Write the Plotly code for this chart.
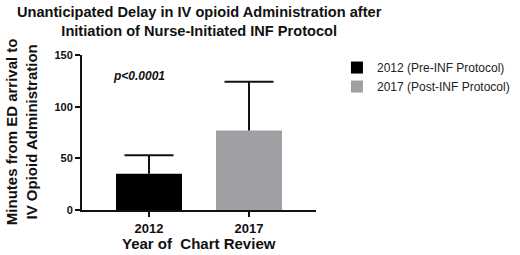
import plotly.graph_objects as go

years = ["2012", "2017"]
legend_names = ["2012 (Pre-INF Protocol)", "2017 (Post-INF Protocol)"]
means = [35, 77]
err_plus = [18, 47]
colors = ["#000000", "#a0a0a4"]
title_text = "Unanticipated Delay in IV opioid Administration after<br>Initiation of Nurse-Initiated INF Protocol"
y_title = "Minutes from ED arrival to<br>IV Opioid Administration"
x_title = "Year of &nbsp;Chart Review"
p_text = "p<0.0001"

fig = go.Figure()
for i in range(len(years)):
    fig.add_trace(go.Bar(
        x=[years[i]], y=[means[i]], name=legend_names[i],
        marker=dict(color=colors[i], line=dict(width=0)),
        width=0.66,
    ))

# error bars (upper only): stems and caps
stem_x, stem_y = [], []
for i in range(len(years)):
    stem_x += [years[i], years[i], None]
    stem_y += [means[i], means[i] + err_plus[i], None]
fig.add_trace(go.Scatter(x=stem_x, y=stem_y, mode="lines", showlegend=False,
                         line=dict(color="#111111", width=2), hoverinfo="skip"))
fig.add_trace(go.Scatter(x=years, y=[m + e for m, e in zip(means, err_plus)],
                         mode="markers", showlegend=False, hoverinfo="skip",
                         marker=dict(symbol="line-ew", size=35,
                                     line=dict(color="#111111", width=2))))

font_fam = "Liberation Sans, Arial, sans-serif"
fig.update_layout(
    width=520, height=255,
    margin=dict(l=82, r=204, t=55, b=45, autoexpand=False),
    plot_bgcolor="white", paper_bgcolor="white",
    barmode="overlay",
    font=dict(family=font_fam, color="#111111"),
    showlegend=True,
    legend=dict(xref="container", yref="container", x=0.648, y=0.792,
                xanchor="left", yanchor="top",
                font=dict(size=12, color="#222222"), bgcolor="rgba(0,0,0,0)"),
    xaxis=dict(type="category", categoryorder="array", categoryarray=years,
               range=[-0.67, 1.67], showline=True, linecolor="#111111", linewidth=2,
               ticks="outside", ticklen=5, tickwidth=2, tickcolor="#111111",
               tickfont=dict(size=13, family=font_fam, color="#111111", weight="bold"),
               showgrid=False, zeroline=False, fixedrange=True),
    yaxis=dict(range=[0, 150], tickvals=[0, 50, 100, 150], showline=True,
               linecolor="#111111", linewidth=2, ticks="outside", ticklen=5, tickwidth=2,
               tickcolor="#111111",
               tickfont=dict(size=11, family=font_fam, color="#111111", weight="bold"),
               showgrid=False, zeroline=False, fixedrange=True),
    annotations=[
        dict(text="<b>" + title_text + "</b>", xref="paper", yref="paper",
             x=0.504, y=1.213, xanchor="center", yanchor="middle", showarrow=False,
             font=dict(size=14.6, family=font_fam, color="#111111")),
        dict(text="<b>" + y_title + "</b>", xref="paper", yref="paper",
             x=-0.26, y=0.503, xanchor="center", yanchor="middle", textangle=-90,
             showarrow=False, font=dict(size=15, family=font_fam, color="#111111")),
        dict(text="<b>" + x_title + "</b>", xref="paper", yref="paper",
             x=0.5, y=-0.213, xanchor="center", yanchor="middle", showarrow=False,
             font=dict(size=15, family=font_fam, color="#111111")),
        dict(text="<b><i>" + p_text + "</i></b>", xref="x", yref="y",
             x=-0.1, y=130, xanchor="center", yanchor="middle", showarrow=False,
             font=dict(size=12, family=font_fam, color="#111111")),
    ],
)

fig.write_html("out.html", config={"displayModeBar": False},
               post_script="document.body.style.margin='0';")
